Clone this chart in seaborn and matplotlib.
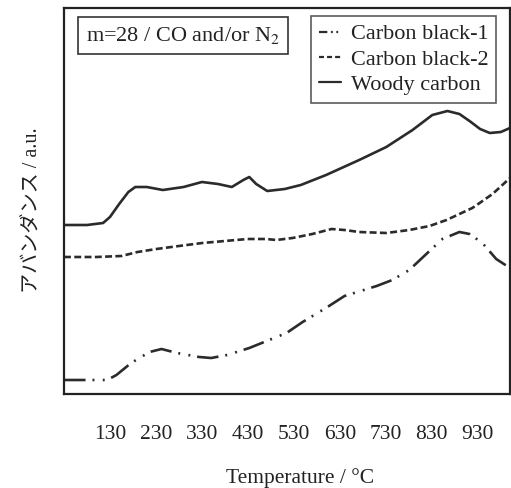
import matplotlib
matplotlib.use("Agg")
import matplotlib.pyplot as plt
from matplotlib.lines import Line2D
import seaborn as sns
import numpy as np

sns.set_theme(style="white")
plt.rcParams['font.family'] = ['Liberation Serif', 'Noto Sans CJK JP']
plt.rcParams['lines.scale_dashes'] = False
plt.rcParams['mathtext.fontset'] = 'stix'

# Data (temperature in °C, abundance in arbitrary units)
woody_T = [30, 80, 115, 130, 150, 170, 185, 210, 245, 290, 330, 365, 395, 420, 433, 448, 472,
           510, 545, 600, 672, 731, 788, 831, 864, 890, 912, 935, 956, 980, 1000]
woody_y = [225, 225, 223, 217, 204, 192, 187, 187, 190, 187, 182, 184, 187, 180, 177, 184, 191,
           189, 185, 175, 160, 147, 130, 115, 111, 114, 121, 129, 133, 132, 128]

cb2_T = [30, 100, 155, 190, 231, 280, 331, 380, 429, 470, 492, 527, 570, 612, 640, 672, 731,
         781, 825, 862, 890, 918, 934, 962, 1000]
cb2_y = [257, 257, 256, 252, 249, 246, 243, 241, 239, 239, 240, 238, 234, 229, 230, 232, 233,
         230, 226, 220, 214, 208, 203, 194, 178]

cb1_T = [30, 80, 124, 144, 176, 216, 242, 276, 324, 350, 385, 433, 514, 549, 603, 640, 710,
         744, 781, 818, 853, 890, 912, 940, 970, 1000]
cb1_y = [380, 380, 380, 375, 363, 352, 349, 353, 357, 358, 355, 348, 333, 322, 307, 296, 286,
         280, 270, 254, 239, 232, 234, 243, 259, 268]

labels = ["Carbon black-1", "Carbon black-2", "Woody carbon"]
xticks = [130, 230, 330, 430, 530, 630, 730, 830, 930]

W, H = 511, 488
fig = plt.figure(figsize=(W / 100, H / 100), dpi=100)
ax = fig.add_axes([64 / W, 1 - 394 / H, 446 / W, 386 / H])

col = "#2b2b2b"
tcol = "#222222"
lw = 1.9
styles = [(0, (15.5, 5.0, 1.4, 6.0, 1.4, 5.0)), (0, (5.0, 2.4)), "-"]
leg_styles = [(0, (6.0, 2.6, 1.3, 2.6, 1.3, 2.6)), (0, (3.6, 2.2)), "-"]
series = [(cb1_T, cb1_y), (cb2_T, cb2_y), (woody_T, woody_y)]
handles = []
for (tx, ty), ls, lls, lab in zip(series, styles, leg_styles, labels):
    yv = [394 - v for v in ty]
    sns.lineplot(x=tx, y=yv, ax=ax, color=col, lw=lw, estimator=None, sort=False)
    line = ax.lines[-1]
    line.set_linestyle(ls)
    handles.append(Line2D([], [], color=col, lw=1.6, linestyle=lls))

ax.set_xlim(30, 1000)
ax.set_ylim(0, 386)
ax.set_xticks(xticks)
ax.set_xticklabels([str(t) for t in xticks], fontsize=15.5, color=tcol)
ax.set_yticks([])
ax.tick_params(axis="x", direction="in", length=7, width=1.6, color=tcol, pad=22)
for s in ax.spines.values():
    s.set_visible(True)
    s.set_color(tcol)
    s.set_linewidth(1.6)
ax.set_xlabel("")
ax.set_ylabel("")

fig.text(300 / W, 1 - 478 / H, "Temperature / °C", ha="center", va="center",
         fontsize=15.5, color=tcol)
fig.text(32 / W, 1 - 210 / H, "アバンダンス / a.u.", ha="center", va="center",
         rotation=90, fontsize=14.5, color=tcol,
         family=['Liberation Serif', 'Noto Sans CJK JP'])

ax.text(183 / W, 1 - 35 / H, r"m=28 / CO and/or N$_2$", transform=fig.transFigure,
        ha="center", va="center", fontsize=16, color=tcol,
        bbox=dict(boxstyle="square,pad=0.36", fc="white", ec="#333333", lw=1.2))

leg = ax.legend(handles=handles, labels=labels, loc="upper right",
                bbox_to_anchor=(496 / W, 1 - 16 / H), bbox_transform=fig.transFigure,
                fontsize=16, frameon=True, fancybox=False, handlelength=1.0,
                handletextpad=0.42, labelspacing=0.22, borderpad=0.35,
                borderaxespad=0.0)
fr = leg.get_frame()
fr.set_edgecolor("#333333")
fr.set_linewidth(1.2)
for t in leg.get_texts():
    t.set_color(tcol)

fig.savefig("out.png", dpi=100)
